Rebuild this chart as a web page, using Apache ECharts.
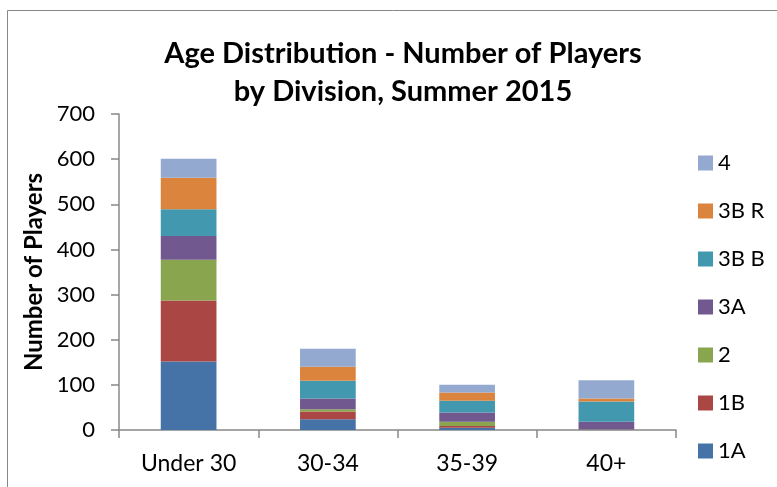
<!DOCTYPE html>
<html><head><meta charset="utf-8">
<script src="https://cdn.jsdelivr.net/npm/echarts@6/dist/echarts.min.js"></script>
<style>html,body{margin:0;padding:0;background:#fff}#c{width:777px;height:487px}</style>
</head><body><div id="c"></div>
<script>
const categories = ['Under 30', '30-34', '35-39', '40+'];
const s1A  = [152, 24, 5, 0];
const s1B  = [135, 17, 4, 0];
const s2   = [90, 5, 9, 1];
const s3A  = [53, 24, 21, 17];
const s3BB = [59, 39, 26, 45];
const s3BR = [70, 31, 18, 7];
const s4   = [42, 40, 17, 40];
const yTicks = [0, 100, 200, 300, 400, 500, 600, 700];

const names = ['1A', '1B', '2', '3A', '3B B', '3B R', '4'];
const values = [s1A, s1B, s2, s3A, s3BB, s3BR, s4];
const colors = ['#4572A7', '#AA4643', '#89A54E', '#71588F', '#4198AF', '#DB843D', '#93A9CF'];
const F = 'Lato, "Liberation Sans", sans-serif';

const chart = echarts.init(document.getElementById('c'));
chart.setOption({
  animation: false,
  graphic: [{type: 'rect', shape: {x: 7.5, y: 10.5, width: 800, height: 500}, style: {fill: 'none', stroke: '#888', lineWidth: 1}, silent: true}],
  title: {
    text: 'Age Distribution - Number of Players\nby Division, Summer 2015',
    left: 398, top: 30, textAlign: 'center',
    textStyle: {fontFamily: F, fontSize: 29, fontWeight: 'bold', color: '#000', lineHeight: 38}
  },
  legend: {
    orient: 'vertical', left: 693, top: 147,
    itemWidth: 15, itemHeight: 15, itemGap: 26,
    icon: 'rect',
    data: ['4', '3B R', '3B B', '3A', '2', '1B', '1A'],
    textStyle: {fontFamily: F, fontSize: 22, color: '#000', padding: [0, 0, 0, 0]}
  },
  grid: {left: 119, right: 101, top: 114, bottom: 57, containLabel: false},
  xAxis: {
    type: 'category', data: categories,
    axisLine: {lineStyle: {color: '#888', width: 1.5}},
    axisTick: {show: true, length: 8, lineStyle: {color: '#888', width: 1.5}},
    axisLabel: {fontFamily: F, fontSize: 23, color: '#000', margin: 22}
  },
  yAxis: {
    type: 'value', min: yTicks[0], max: yTicks[yTicks.length - 1], interval: 100,
    name: 'Number of Players', nameLocation: 'middle', nameGap: 72,
    nameTextStyle: {fontFamily: F, fontSize: 24, fontWeight: 'bold', color: '#000'},
    axisLine: {show: true, lineStyle: {color: '#888', width: 1.5}},
    axisTick: {show: true, length: 8, lineStyle: {color: '#888', width: 1.5}},
    splitLine: {show: false},
    axisLabel: {fontFamily: F, fontSize: 22, color: '#000', margin: 24}
  },
  series: names.map((n, i) => ({
    name: n, type: 'bar', stack: 'total', data: values[i], barWidth: '40%',
    itemStyle: {color: colors[i]}
  }))
});
</script></body></html>
